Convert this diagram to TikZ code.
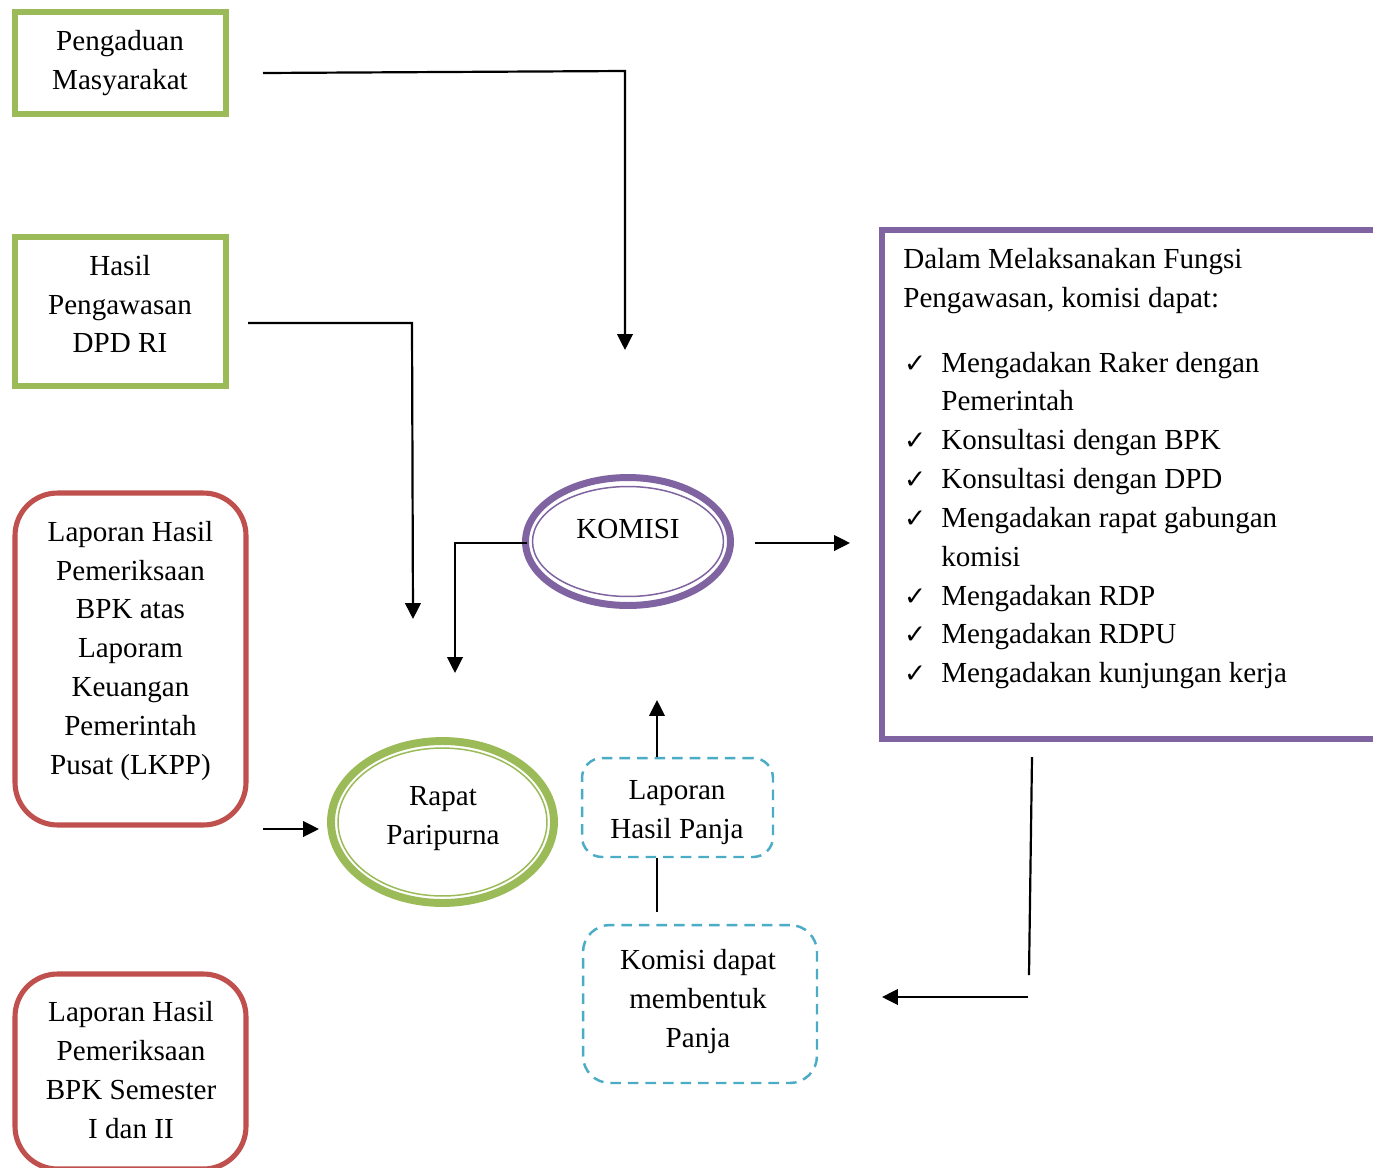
\documentclass[tikz,border=0pt]{standalone}
\usepackage{fontspec}
\setmainfont{Liberation Serif}
\newfontfamily\symf{DejaVu Sans}
\usetikzlibrary{shapes.geometric,arrows.meta,calc}
\definecolor{kgreen}{HTML}{9BBB59}
\definecolor{kred}{HTML}{C0504D}
\definecolor{kpurple}{HTML}{8064A2}
\definecolor{kblue}{HTML}{4BACC6}
\newcommand{\chk}{\hspace*{0.5pt}{\symf\fontsize{15pt}{15pt}\selectfont ✓}}
\begin{document}
\begin{tikzpicture}[x=0.02cm,y=-0.02cm,
  txt/.style={align=center,inner sep=0pt,font=\fontsize{16.55pt}{22.1pt}\selectfont},
  gbox/.style={draw=kgreen,line width=3pt,rectangle,inner sep=0pt},
  rbox/.style={draw=kred,line width=2.9pt,rectangle,rounded corners=0.85cm,inner sep=0pt},
  dbox/.style={draw=kblue,line width=1.4pt,dash pattern=on 6pt off 4pt,rectangle,inner sep=0pt},
  ring/.style={ellipse,inner sep=0pt},
  conn/.style={line width=1.25pt},
  arr/.style={conn,-{Triangle[length=9pt,width=8.8pt]}},
]
\useasboundingbox (0,0) rectangle (1373,1167);
\fill[white] (0,0) rectangle (1373,1167);

% left boxes
\node[gbox,minimum width=4.22cm,minimum height=2.04cm] (pengaduan) at (120.5,63) {};
\node[txt] (pengaduanT) at (120,63.3) {Pengaduan\\Masyarakat};

\node[gbox,minimum width=4.22cm,minimum height=2.98cm] (hasil) at (120.5,311.5) {};
\node[txt] (hasilT) at (120,304) {Hasil\\Pengawasan\\DPD RI};

\node[rbox,minimum width=4.62cm,minimum height=6.64cm] (lhpa) at (130.5,659) {};
\node[txt] (lhpaT) at (130.5,650.7) {Laporan Hasil\\Pemeriksaan\\BPK atas\\Laporam\\Keuangan\\Pemerintah\\Pusat (LKPP)};

\node[rbox,minimum width=4.62cm,minimum height=3.9cm] (lhpb) at (130.5,1071.5) {};
\node[txt] (lhpbT) at (131,1070) {Laporan Hasil\\Pemeriksaan\\BPK Semester\\I dan II};

% KOMISI
\node[ring,draw=kpurple,line width=3.97pt,minimum width=4.1cm,minimum height=2.56cm] (komisi) at (628,541.5) {};
\node[ring,draw=kpurple,line width=0.85pt,minimum width=3.82cm,minimum height=2.2cm] (komisiIn) at (komisi.center) {};
\node[txt] (komisiT) at (628,529) {KOMISI};

% Rapat Paripurna
\node[ring,draw=kgreen,line width=4.5pt,minimum width=4.46cm,minimum height=3.24cm] (rapat) at (442.5,822) {};
\node[ring,draw=kgreen,line width=0.85pt,minimum width=4.18cm,minimum height=2.96cm] (rapatIn) at (rapat.center) {};
\node[txt] (rapatT) at (443,818.5) {Rapat\\Paripurna};

% Panja boxes
\node[dbox,rounded corners=0.4cm,minimum width=3.82cm,minimum height=1.98cm] (lpanja) at (677.5,807.5) {};
\node[txt] (lpanjaT) at (677,812.3) {Laporan\\Hasil Panja};

\node[dbox,rounded corners=0.54cm,minimum width=4.68cm,minimum height=3.16cm] (kpanja) at (700,1004) {};
\node[txt] (kpanjaT) at (698,1001.5) {Komisi dapat\\membentuk\\Panja};

% purple box
\node[rectangle,draw=kpurple,line width=3.4pt,minimum width=9.96cm,minimum height=10.18cm,inner sep=0pt] (fungsi) at (1131,484.5) {};
\node[txt,align=left,anchor=base west] (fungsiT) at (903,268.6) {%
\begin{tabular}[t]{@{}p{0.76cm}@{}l@{}}
\multicolumn{2}{@{}l@{}}{Dalam Melaksanakan Fungsi}\\
\multicolumn{2}{@{}l@{}}{Pengawasan, komisi dapat:}\\[14.7pt]
\chk & Mengadakan Raker dengan\\
 & Pemerintah\\
\chk & Konsultasi dengan BPK\\
\chk & Konsultasi dengan DPD\\
\chk & Mengadakan rapat gabungan\\
 & komisi\\
\chk & Mengadakan RDP\\
\chk & Mengadakan RDPU\\
\chk & Mengadakan kunjungan kerja
\end{tabular}};

% connector end points
\coordinate (a1) at (263,73);   \coordinate (a2) at (625,71);  \coordinate (a3) at (625,350);
\coordinate (b1) at (248,323);  \coordinate (b2) at (412,323); \coordinate (b3) at (413,619);
\coordinate (c1) at (527,543);  \coordinate (c2) at (455,543); \coordinate (c3) at (455,673);
\coordinate (d1) at (755,543);  \coordinate (d2) at (850,543);
\coordinate (e1) at (263,829);  \coordinate (e2) at (319,829);
\coordinate (f1) at (657,757);  \coordinate (f2) at (657,700);
\coordinate (g1) at (657,858);  \coordinate (g2) at (657,912);
\coordinate (h1) at (1032,757); \coordinate (h2) at (1029,975);
\coordinate (i1) at (1028,997); \coordinate (i2) at (882,997);

\draw[arr] (a1) -- (a2) -- (a3);
\draw[arr] (b1) -- (b2) -- (b3);
\draw[arr] (c1) -- (c2) -- (c3);
\draw[arr] (d1) -- (d2);
\draw[arr] (e1) -- (e2);
\draw[arr] (f1) -- (f2);
\draw[conn] (g1) -- (g2);
\draw[conn] (h1) -- (h2);
\draw[arr] (i1) -- (i2);
\end{tikzpicture}
\end{document}
